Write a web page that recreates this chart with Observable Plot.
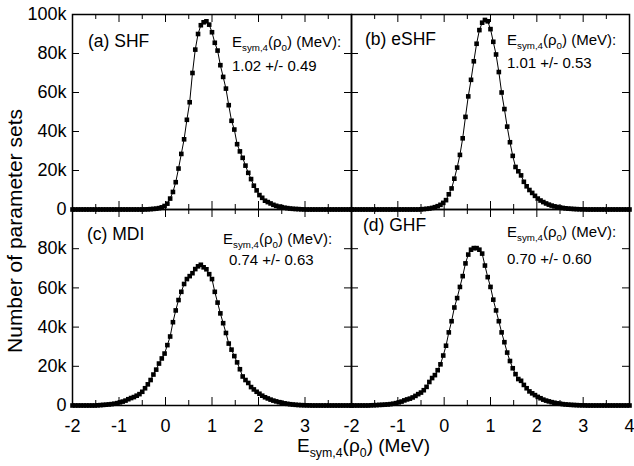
<!DOCTYPE html>
<html><head><meta charset="utf-8">
<script src="https://cdn.jsdelivr.net/npm/d3@7"></script>
<script src="https://cdn.jsdelivr.net/npm/@observablehq/plot@0.6"></script>
<style>
body{margin:0;background:#fff;}
#wrap{position:relative;width:634px;height:466px;font-family:"Liberation Sans",Arial,sans-serif;}
</style></head><body><div id="wrap"></div>
<script>
// ---- data (counts in thousands) ----
const esym = [
 -2.00,-1.94,-1.88,-1.82,-1.76,-1.70,-1.64,-1.58,-1.52,-1.46,
 -1.40,-1.34,-1.28,-1.22,-1.16,-1.10,-1.04,-0.98,-0.92,-0.86,
 -0.80,-0.74,-0.68,-0.62,-0.56,-0.50,-0.44,-0.38,-0.32,-0.26,
 -0.20,-0.14,-0.08,-0.02,0.04,0.10,0.16,0.22,0.28,0.34,
 0.40,0.46,0.52,0.58,0.64,0.70,0.76,0.82,0.88,0.94,
 1.00,1.06,1.12,1.18,1.24,1.30,1.36,1.42,1.48,1.54,
 1.60,1.66,1.72,1.78,1.84,1.90,1.96,2.02,2.08,2.14,
 2.20,2.26,2.32,2.38,2.44,2.50,2.56,2.62,2.68,2.74,
 2.80,2.86,2.92,2.98,3.04,3.10,3.16,3.22,3.28,3.34,
 3.40,3.46,3.52,3.58,3.64,3.70,3.76,3.82,3.88,3.94,
 4.00];
const shf = [
 0,0,0,0,0,0,0,0,0,0,
 0,0,0,0,0,0,0,0,0,0,
 0,0,0,0,0,0,0.05,0.1,0.2,0.3,
 0.45,0.7,1.1,1.8,3,5.6,9,14,21,28.5,
 36,46,55,70,82,90,94.5,96,96.5,94.8,
 90.9,85.5,81.5,74,68,62,53.5,45.5,41,33.5,
 29.8,26.5,22.5,18.8,15.6,12.2,9.8,7.4,6,4.5,
 3.8,3.1,2.4,1.9,1.5,1.2,0.9,0.7,0.5,0.35,
 0.25,0.2,0.1,0.05,0,0,0,0,0,0,
 0,0,0,0,0,0,0,0,0,0,
 0];
const eshf = [
 0,0,0,0,0,0,0,0,0,0,
 0,0,0,0,0,0,0,0,0,0,
 0,0,0,0,0,0.1,0.2,0.35,0.5,0.8,
 1.2,1.7,2.4,3.4,4.8,7.8,10.8,15.8,21.5,28,
 36.5,47.5,58,66.5,76,85,92,95.8,97.2,96.5,
 92.5,86,79.5,70.5,60,51.5,42.5,34.5,27.5,21.8,
 19.6,17.5,14.2,11.9,10,8.5,7,5.6,4.6,3.8,
 3.1,2.5,2.0,1.6,1.3,1.0,0.8,0.6,0.45,0.35,
 0.25,0.18,0.12,0.08,0.05,0,0,0,0,0,
 0,0,0,0,0,0,0,0,0,0,
 0];
const mdi = [
 0,0,0,0,0,0,0,0,0,0.1,
 0.2,0.3,0.4,0.55,0.7,0.9,1.2,1.6,2.0,2.5,
 3.2,3.8,4.3,5.0,5.8,7.0,8.8,10.8,13,15.8,
 18.3,21.4,24,26.5,30.8,35.2,42.5,48.5,53.8,58,
 62,64.5,66,67.5,69.6,71,71.8,70.5,69.5,67,
 64.5,58,52.5,47,42,37,31.6,28.5,25.2,22,
 18.5,14.8,13,11.5,9.4,8.2,7,6,5,4.2,
 3.6,3.0,2.5,2.1,1.7,1.4,1.1,0.85,0.65,0.5,
 0.35,0.25,0.18,0.12,0.08,0.05,0,0,0,0,
 0,0,0,0,0,0,0,0,0,0,
 0];
const ghf = [
 0,0,0,0,0,0,0,0.1,0.15,0.2,
 0.3,0.35,0.45,0.55,0.7,0.9,1.2,1.6,2.0,2.6,
 3.1,3.5,4.1,4.9,5.8,6.6,7.8,9.5,12,14,
 15.5,18,21,25.5,30.5,37.3,43,50,54.8,60.5,
 66,72.5,77,79.5,80.3,80.3,79.5,77.5,71.4,65.5,
 60.5,54,48.5,43,37.3,32.3,27,22.7,19,16,
 13.5,12.6,10.5,8.8,7.2,6.2,5.3,4.4,3.7,3.0,
 2.5,2.1,1.7,1.4,1.1,0.9,0.7,0.55,0.42,0.32,
 0.25,0.18,0.12,0.08,0.05,0,0,0,0,0,
 0,0,0,0,0,0,0,0,0,0,
 0];
const panelLabels = ["(a) SHF", "(b) eSHF", "(c) MDI", "(d) GHF"];
const panelValues = ["1.02 +/- 0.49", "1.01 +/- 0.53", "0.74 +/- 0.63", "0.70 +/- 0.60"];
const xLabelsLeft = [-2, -1, 0, 1, 2, 3];
const xLabelsRight = [-2, -1, 0, 1, 2, 3, 4];
const yLabelsTop = [0, 20, 40, 60, 80, 100];
const yLabelsBottom = [0, 20, 40, 60, 80];
const majorX = [-1, 0, 1, 2, 3];
const minorX = [-1.5, -0.5, 0.5, 1.5, 2.5, 3.5];
const yTickVals = [20, 40, 60, 80];
const yTitle = "Number of parameter sets";

// ---- layout ----
const FONT = "Liberation Sans, Arial, sans-serif";
const wrap = document.getElementById("wrap");

function rich(svg, x, y, parts, size, opts = {}) {
  const t = d3.select(svg).append("text")
    .attr("x", x).attr("y", y)
    .attr("font-size", size).attr("font-family", FONT).attr("fill", "black")
    .attr("text-anchor", opts.anchor || "start");
  if (opts.transform) t.attr("transform", opts.transform);
  let sub = false;
  const shift = size * 0.28;
  parts.forEach(([s, isSub]) => {
    const ts = t.append("tspan").text(s);
    if (isSub) { ts.attr("font-size", size * 0.65); if (!sub) ts.attr("dy", shift); }
    else if (sub) ts.attr("dy", -shift);
    sub = !!isSub;
  });
  return t;
}
const esymParts = (tail) => [["E"], ["sym,4", true], ["(\u03c1"], ["0", true], [tail]];

function panel(cfg) {
  const {values, left, top, width, height, mt, mb, ml, yLabels, xLabels} = cfg;
  const data = esym.map((x, i) => ({x, y: values[i]}));
  const ph = height - mt - mb, pw = width - ml;
  const marks = [
    Plot.ruleX(majorX, {x: d => d, insetTop: ph - 8, stroke: "black"}),
    Plot.ruleX(majorX, {x: d => d, insetBottom: ph - 8, stroke: "black"}),
    Plot.ruleX(minorX, {x: d => d, insetTop: ph - 5, stroke: "black"}),
    Plot.ruleX(minorX, {x: d => d, insetBottom: ph - 5, stroke: "black"}),
    Plot.ruleY(yTickVals, {y: d => d, insetRight: pw - 7, stroke: "black"}),
    Plot.ruleY(yTickVals, {y: d => d, insetLeft: pw - 7, stroke: "black"}),
    Plot.line(data, {x: "x", y: "y", stroke: "black", strokeWidth: 1}),
    Plot.dot(data, {x: "x", y: "y", symbol: "square", r: 2.6, fill: "black", stroke: null}),
    Plot.frame({stroke: "black", strokeWidth: 1.5})
  ];
  if (yLabels) marks.push(Plot.axisY(yLabels, {anchor: "left", tickSize: 0, tickPadding: 6,
    tickFormat: d => d === 0 ? "0" : d + "k", fontSize: 18, label: null}));
  if (xLabels) marks.push(Plot.axisX(xLabels, {anchor: "bottom", tickSize: 0, tickPadding: 14,
    tickFormat: d => String(d), fontSize: 18, label: null}));
  const svg = Plot.plot({
    width, height, marginTop: mt, marginBottom: mb, marginLeft: ml, marginRight: 0,
    x: {domain: [-2, 4], ...(xLabels ? {} : {axis: null})},
    y: {domain: [0, 100], ...(yLabels ? {} : {axis: null})},
    style: {fontFamily: FONT, color: "black"},
    marks
  });
  d3.select(svg).style("position", "absolute").style("left", left + "px").style("top", top + "px")
    .style("background", "transparent").style("overflow", "visible").style("max-width", "none");
  wrap.appendChild(svg);
  return svg;
}

const sa = panel({values: shf, left: 0, top: 0, width: 351, height: 209, mt: 14, mb: 0, ml: 72, yLabels: yLabelsTop});
const sb = panel({values: eshf, left: 351, top: 0, width: 278, height: 209, mt: 14, mb: 0, ml: 0});
const sc = panel({values: mdi, left: 0, top: 209, width: 351, height: 257, mt: 0, mb: 61, ml: 72, yLabels: yLabelsBottom, xLabels: xLabelsLeft});
const sd = panel({values: ghf, left: 351, top: 209, width: 278, height: 257, mt: 0, mb: 61, ml: 0, xLabels: xLabelsRight});

// panel annotations
const ann = [
  {svg: sa, lx: 88, ly: 47, ex: 232, ey: 47, vx: 232, vy: 71},
  {svg: sb, lx: 14, ly: 45, ex: 156, ey: 45, vx: 156, vy: 68},
  {svg: sc, lx: 87, ly: 31, ex: 223, ey: 35, vx: 229, vy: 56},
  {svg: sd, lx: 12, ly: 22, ex: 156, ey: 28, vx: 156, vy: 55}
];
ann.forEach((a, i) => {
  rich(a.svg, a.lx, a.ly, [[panelLabels[i]]], 17.5);
  rich(a.svg, a.ex, a.ey, esymParts(") (MeV):"), 15);
  rich(a.svg, a.vx, a.vy, [[panelValues[i]]], 15);
});

// axis titles
rich(sc, 297, 243, esymParts(") (MeV)"), 19);
rich(sc, 0, 0, [[yTitle]], 21, {anchor: "middle", transform: "translate(22,22) rotate(-90)"});
</script></body></html>
